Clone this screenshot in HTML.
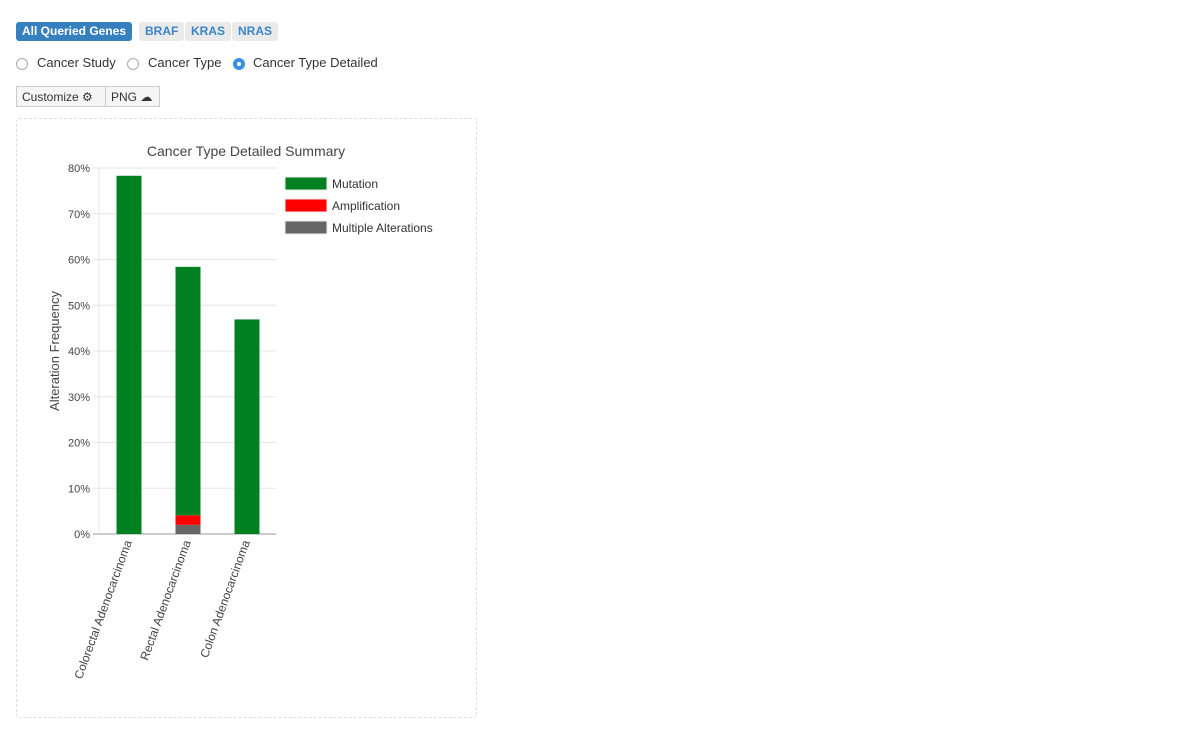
<!DOCTYPE html>
<html><head><meta charset="utf-8"><style>
body{margin:0;width:1193px;height:730px;background:#fff;font-family:"Liberation Sans",Arial,sans-serif;position:relative;overflow:hidden}
.btn{position:absolute;font-size:12px;font-weight:bold;border-radius:3px;padding:0 6px;height:19px;line-height:19px;color:#3a86c8;background:#eaeaea}
.radio{position:absolute;font-size:13px;color:#333}
.rc{position:absolute;width:12px;height:12px;border:1px solid #aaa;border-radius:50%;box-sizing:border-box}
.tb{position:absolute;font-size:12px;color:#333;background:#f5f5f5;border:1px solid #ccc;height:21px;line-height:20px;box-sizing:border-box;padding:0 5px}
</style></head><body>
<div class="btn" style="left:16px;top:22px;background:#3780c0;color:#fff">All Queried Genes</div>
<div class="btn" style="left:139px;top:22px">BRAF</div>
<div class="btn" style="left:185px;top:22px">KRAS</div>
<div class="btn" style="left:232px;top:22px">NRAS</div>
<div class="rc" style="left:16px;top:58px"></div>
<div class="radio" style="left:37px;top:55px">Cancer Study</div>
<div class="rc" style="left:127px;top:58px"></div>
<div class="radio" style="left:148px;top:55px">Cancer Type</div>
<div class="rc" style="left:233px;top:58px;background:#3a8ee6;border-color:#3a8ee6"><div style="width:4px;height:4px;background:#fff;border-radius:50%;margin:3px"></div></div>
<div class="radio" style="left:253px;top:55px">Cancer Type Detailed</div>
<div class="tb" style="left:16px;top:86px;width:90px">Customize ⚙</div>
<div class="tb" style="left:105px;top:86px;width:55px">PNG ☁</div>
<div style="position:absolute;left:16px;top:118px;width:459px;height:598px;border:1px dashed #ddd;border-radius:3px"></div>
<svg id="chart" width="1193" height="730" style="position:absolute;left:0;top:0" font-family="Liberation Sans, Arial, sans-serif">
<text x="246" y="156" text-anchor="middle" font-size="14" fill="#444">Cancer Type Detailed Summary</text>
<text transform="translate(59,351) rotate(-90)" text-anchor="middle" font-size="13" fill="#444">Alteration Frequency</text>
<g id="g"></g>
<g font-size="12" fill="#333">
<rect x="285" y="177" width="42" height="13" fill="#008020" stroke="#eee"/><text x="332" y="188">Mutation</text>
<rect x="285" y="199" width="42" height="13" fill="#ff0000" stroke="#eee"/><text x="332" y="210">Amplification</text>
<rect x="285" y="221" width="42" height="13" fill="#666" stroke="#eee"/><text x="332" y="232">Multiple Alterations</text>
</g>
</svg>
<script>
const categories=["Colorectal Adenocarcinoma","Rectal Adenocarcinoma","Colon Adenocarcinoma"];
const multiple=[0,2.0,0];
const amplification=[0,2.1,0];
const mutation=[78.3,54.3,46.9];
const ticks=[0,10,20,30,40,50,60,70,80];
const tickLabels=["0%","10%","20%","30%","40%","50%","60%","70%","80%"];
const ns="http://www.w3.org/2000/svg",g=document.getElementById("g");
const y=v=>534-v*4.575, x0=99, band=59;
function mk(t,a,p){const e=document.createElementNS(ns,t);for(const k in a)e.setAttribute(k,a[k]);(p||g).appendChild(e);return e;}
ticks.forEach((t,i)=>{
 const l=mk("line",{x1:93,x2:276,y1:y(t),y2:y(t),stroke:i?"#e6e6e6":"#999"});
 
 
 const tx=mk("text",{x:90,y:y(t)+4,"text-anchor":"end","font-size":11,fill:"#444"});tx.textContent=tickLabels[i];
 
 
});
const ax=mk("line",{x1:x0,x2:x0,y1:168,y2:534,stroke:"#e6e6e6"});


categories.forEach((c,i)=>{
 const cx=x0+band*(i+0.5)+0.5;
 let base=0;
 [[multiple,"#666","multiple"],[amplification,"#ff0000","amplification"],[mutation,"#008020","mutation"]].forEach(([arr,col,n])=>{
  const v=arr[i]; if(v<=0)return;
  const r=mk("rect",{x:cx-12.5,width:25,y:y(base+v),height:y(base)-y(base+v),fill:col});
  
  
  base+=v;
 });
 const t=mk("text",{transform:`translate(${cx+3},${542}) rotate(-70)`,"text-anchor":"end","font-size":12,fill:"#444"});
 t.textContent=c;
 
 
});
</script>
</body></html>
